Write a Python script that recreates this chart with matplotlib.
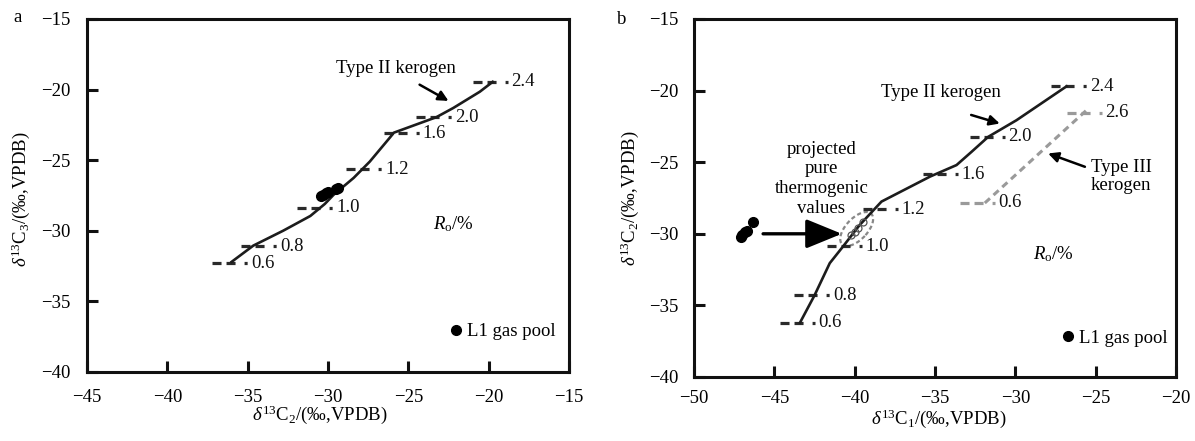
import numpy as np
import matplotlib
matplotlib.use('Agg')
from matplotlib import pyplot as plt
from matplotlib.patches import Ellipse

plt.rcParams['font.family'] = ['Liberation Serif', 'DejaVu Serif']
plt.rcParams['mathtext.fontset'] = 'custom'
plt.rcParams['mathtext.rm'] = 'Liberation Serif'
plt.rcParams['mathtext.it'] = 'Liberation Serif:italic'
plt.rcParams['mathtext.bf'] = 'Liberation Serif:bold'
plt.rcParams['lines.scale_dashes'] = False

# ---- panel a: d13C2 vs d13C3, type II kerogen curve
a_curve_x = [-36.0, -34.65, -32.8, -31.1, -30.2, -29.65, -28.4, -27.4, -26.15, -25.9,
             -23.25, -22.2, -20.55, -19.75]
a_curve_y = [-32.2, -31.05, -30.0, -28.95, -28.1, -27.45, -26.25, -25.1, -23.4, -23.05,
             -21.95, -21.3, -20.15, -19.45]
a_ro_x = [-37.2, -35.4, -31.9, -28.85, -26.5, -24.5, -21.0]
a_ro_y = [-32.3, -31.1, -28.35, -25.65, -23.1, -21.95, -19.45]
a_ro_lbl = ['0.6', '0.8', '1.0', '1.2', '1.6', '2.0', '2.4']
a_gas_x = [-30.45, -30.3, -30.15, -30.0, -29.5, -29.35]
a_gas_y = [-27.55, -27.45, -27.35, -27.25, -27.05, -27.0]

# ---- panel b: d13C1 vs d13C2
b_t2_x = [-43.4, -42.5, -41.55, -40.72, -39.7, -38.33, -35.3, -33.66, -32.73, -31.69, -29.93, -26.81]
b_t2_y = [-36.2, -34.3, -32.05, -30.88, -29.4, -27.75, -26.0, -25.2, -24.28, -23.23, -22.07, -19.7]
b_t2_ro_x = [-44.65, -43.75, -41.75, -39.5, -35.75, -32.85, -27.75]
b_t2_ro_y = [-36.2, -34.3, -30.88, -28.28, -25.83, -23.23, -19.7]
b_t2_ro_lbl = ['0.6', '0.8', '1.0', '1.2', '1.6', '2.0', '2.4']
b_t3_x = [-31.9, -25.6]
b_t3_y = [-27.85, -21.4]
b_t3_ro_x = [-33.45, -26.8]
b_t3_ro_y = [-27.82, -21.56]
b_t3_ro_lbl = ['0.6', '2.6']
b_gas_x = [-47.1, -47.0, -46.85, -46.7, -46.3]
b_gas_y = [-30.2, -30.05, -29.9, -29.8, -29.15]
b_proj_x = [-40.2, -40.0, -39.8, -39.5]
b_proj_y = [-30.05, -29.85, -29.6, -29.15]

DARK = '#1c1c1c'
GRAY = '#9a9a9a'
FS = 13.5
ro_dash = (0, (6.5, 3.6, 6.5, 6.5, 2.2, 40))
arrow_kw = dict(arrowstyle='-|>', color='black', lw=1.8, mutation_scale=15, shrinkA=0, shrinkB=0)


def ro_marks(ax, xs, ys, lbls, color):
    for x, y, t in zip(xs, ys, lbls):
        ax.plot([x, x + 2.2], [y, y], color=color, lw=2.3, linestyle=ro_dash,
                solid_capstyle='butt', dash_capstyle='butt')
        ax.text(x + 2.4, y, t, fontsize=FS, va='center', ha='left', color='#111111')


def style(ax, xlim, ylim, xticks, yticks, xpad, ypad):
    ax.set_xlim(*xlim)
    ax.set_ylim(*ylim)
    ax.set_xticks(xticks)
    ax.set_yticks(yticks)
    for s in ax.spines.values():
        s.set_linewidth(2.2)
        s.set_color('#111111')
    ax.tick_params(direction='in', length=8, width=2.2, labelsize=FS, color='#111111')
    ax.tick_params(axis='x', pad=xpad)
    ax.tick_params(axis='y', pad=ypad)


fig = plt.figure(figsize=(11.95, 4.41), dpi=100)
ax1 = fig.add_axes([87 / 1195, 1 - 372 / 441, 482 / 1195, 353 / 441])
ax2 = fig.add_axes([694 / 1195, 1 - 377 / 441, 482 / 1195, 358 / 441])

# panel a
ro_marks(ax1, a_ro_x, a_ro_y, a_ro_lbl, '#2a2a2a')
ax1.plot(a_curve_x, a_curve_y, color=DARK, lw=1.9)
ax1.plot(a_gas_x, a_gas_y, 'o', color='black', ms=7, label='L1 gas pool')
ax1.text(-25.8, -18.5, 'Type II kerogen', fontsize=FS, ha='center', va='center')
ax1.annotate('', xy=(-22.5, -20.8), xytext=(-24.3, -19.65), arrowprops=arrow_kw)
ax1.text(-22.2, -29.5, r'$R_\mathrm{o}$/%', fontsize=FS, ha='center', va='center')
style(ax1, (-45, -15), (-40, -15), [-45, -40, -35, -30, -25, -20, -15],
      [-40, -35, -30, -25, -20, -15], 12, 12)
ax1.set_xlabel(r'$\delta^{13}\mathrm{C}_2$/(‰,VPDB)', fontsize=FS)
ax1.set_ylabel(r'$\delta^{13}\mathrm{C}_3$/(‰,VPDB)', fontsize=FS)
ax1.xaxis.set_label_coords(0.483, -0.09)
ax1.yaxis.set_label_coords(-0.115, 0.49)
ax1.legend(loc='lower right', bbox_to_anchor=(0.972, 0.09), frameon=False, fontsize=FS,
           handlelength=0.8, handletextpad=0.2, borderpad=0, borderaxespad=0)

# panel b
ro_marks(ax2, b_t2_ro_x, b_t2_ro_y, b_t2_ro_lbl, '#2a2a2a')
ro_marks(ax2, b_t3_ro_x, b_t3_ro_y, b_t3_ro_lbl, GRAY)
ax2.plot(b_t2_x, b_t2_y, color=DARK, lw=1.9)
ax2.plot(b_t3_x, b_t3_y, color=GRAY, lw=2.2, linestyle=(0, (5, 3.5)))
ax2.plot(b_gas_x, b_gas_y, 'o', color='black', ms=7, label='L1 gas pool')
ax2.plot(b_proj_x, b_proj_y, 'o', mfc='none', mec='#555555', ms=5, mew=0.9)
ax2.add_patch(Ellipse((np.mean(b_proj_x), np.mean(b_proj_y)), 2.8, 1.4, angle=52,
                      fill=False, ec='#888888', lw=1.6, ls=(0, (3, 2))))
ax2.annotate('', xy=(-40.8, -30.0), xytext=(-45.7, -30.0),
             arrowprops=dict(arrowstyle='-|>,head_length=1.1,head_width=0.45', color='black',
                             lw=2.4, mutation_scale=20, shrinkA=0, shrinkB=0))
ax2.text(-42.07, -26.15, 'projected\npure\nthermogenic\nvalues', fontsize=FS, ha='center',
         va='center', linespacing=1.2)
ax2.text(-34.6, -20.1, 'Type II kerogen', fontsize=FS, ha='center', va='center')
ax2.annotate('', xy=(-30.97, -22.3), xytext=(-32.75, -21.7), arrowprops=arrow_kw)
ax2.text(-23.4, -26.0, 'Type III\nkerogen', fontsize=FS, ha='center', va='center',
         linespacing=1.15)
ax2.annotate('', xy=(-27.96, -24.39), xytext=(-25.67, -25.32), arrowprops=arrow_kw)
ax2.text(-27.65, -31.45, r'$R_\mathrm{o}$/%', fontsize=FS, ha='center', va='center')
style(ax2, (-50, -20), (-40, -15), [-50, -45, -40, -35, -30, -25, -20],
      [-40, -35, -30, -25, -20, -15], 9.5, 11)
ax2.set_xlabel(r'$\delta^{13}\mathrm{C}_1$/(‰,VPDB)', fontsize=FS)
ax2.set_ylabel(r'$\delta^{13}\mathrm{C}_2$/(‰,VPDB)', fontsize=FS)
ax2.xaxis.set_label_coords(0.508, -0.084)
ax2.yaxis.set_label_coords(-0.11, 0.5)
ax2.legend(loc='lower right', bbox_to_anchor=(0.983, 0.085), frameon=False, fontsize=FS,
           handlelength=0.8, handletextpad=0.2, borderpad=0, borderaxespad=0)

fig.text(18 / 1195, 1 - 18 / 441, 'a', fontsize=FS, ha='center', va='center')
fig.text(622 / 1195, 1 - 20 / 441, 'b', fontsize=FS, ha='center', va='center')

fig.savefig('out.png', dpi=100)
